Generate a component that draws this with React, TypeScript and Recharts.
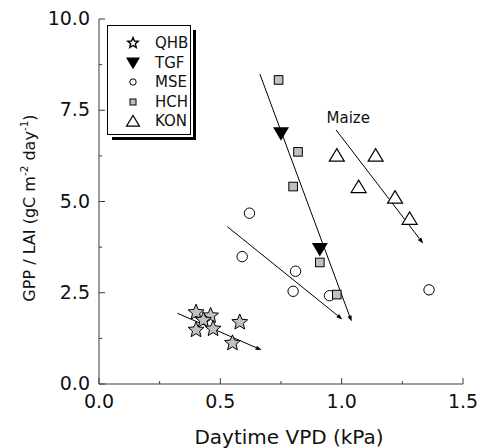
import React from 'react';
import {
  ScatterChart,
  Scatter,
  XAxis,
  YAxis,
  ReferenceLine,
  ReferenceDot,
  Legend,
} from 'recharts';

// tick positions (majors get labels)
const X_TICKS = [0, 0.25, 0.5, 0.75, 1.0, 1.25, 1.5];
const Y_TICKS = [0, 1.25, 2.5, 3.75, 5.0, 6.25, 7.5, 8.75, 10.0];

// site values (VPD kPa, GPP/LAI)
const QHB_X = [0.40, 0.46, 0.43, 0.40, 0.47, 0.58, 0.55];
const QHB_Y = [1.96, 1.87, 1.75, 1.48, 1.51, 1.69, 1.12];
const TGF_X = [0.75, 0.91];
const TGF_Y = [6.86, 3.69];
const MSE_X = [0.62, 0.81, 0.80, 0.59, 0.95, 1.36];
const MSE_Y = [4.68, 3.09, 2.54, 3.49, 2.42, 2.58];
const HCH_X = [0.74, 0.82, 0.80, 0.91, 0.98];
const HCH_Y = [8.33, 6.36, 5.41, 3.33, 2.45];
const KON_X = [0.98, 1.14, 1.07, 1.22, 1.28];
const KON_Y = [6.27, 6.27, 5.41, 5.12, 4.54];

// trend arrows: [start, end]
const QHB_TREND = [{ x: 0.323, y: 1.94 }, { x: 0.67, y: 0.93 }];
const MSE_TREND = [{ x: 0.529, y: 4.31 }, { x: 1.003, y: 1.77 }];
const TGF_TREND = [{ x: 0.663, y: 8.49 }, { x: 1.041, y: 1.71 }];
const MAIZE_TREND = [{ x: 0.977, y: 6.96 }, { x: 1.336, y: 3.85 }];

const SITES = ['QHB', 'TGF', 'MSE', 'HCH', 'KON'];

const FONT = '"DejaVu Sans", Verdana, sans-serif';
const AXIS = '#3a3a3a';
const GREY = '#c0c0c0';

const toPts = (xs: number[], ys: number[]) => xs.map((x, i) => ({ x, y: ys[i] }));

const isMajor = (v: number, step: number) => Math.abs(v / step - Math.round(v / step)) < 1e-6;

// ---- markers ----
const starPath = (cx: number, cy: number, R: number, r: number) => {
  const pts: string[] = [];
  for (let i = 0; i < 10; i++) {
    const rad = i % 2 === 0 ? R : r;
    const a = -Math.PI / 2 + (i * Math.PI) / 5;
    pts.push(`${(cx + rad * Math.cos(a)).toFixed(2)},${(cy + rad * Math.sin(a)).toFixed(2)}`);
  }
  return `M${pts.join('L')}Z`;
};

const Star = ({ cx, cy, R = 8.3, fill = GREY, sw = 1 }: any) => (
  <path d={starPath(cx, cy, R, R * 0.45)} fill={fill} stroke="#000" strokeWidth={sw} />
);
const DownTri = ({ cx, cy, s = 8 }: any) => (
  <path d={`M${cx - s},${cy - s * 0.8}L${cx + s},${cy - s * 0.8}L${cx},${cy + s * 0.9}Z`} fill="#000" />
);
const UpTri = ({ cx, cy, s = 7.5 }: any) => (
  <path
    d={`M${cx - s},${cy + s * 0.8}L${cx + s},${cy + s * 0.8}L${cx},${cy - s * 0.85}Z`}
    fill="#fff"
    stroke="#000"
    strokeWidth={1.2}
  />
);
const Circ = ({ cx, cy, r = 5.2 }: any) => (
  <circle cx={cx} cy={cy} r={r} fill="#fff" stroke="#000" strokeWidth={1} />
);
const Sq = ({ cx, cy, s = 4.3 }: any) => (
  <rect x={cx - s} y={cy - s} width={s * 2} height={s * 2} fill={GREY} stroke="#000" strokeWidth={1} />
);

// ---- arrow for trend lines ----
const ArrowLine = (props: any) => {
  const { x1, y1, x2, y2 } = props;
  const ang = Math.atan2(y2 - y1, x2 - x1);
  const L = 6;
  const W = 2.2;
  const bx = x2 - L * Math.cos(ang);
  const by = y2 - L * Math.sin(ang);
  const px = -Math.sin(ang) * W;
  const py = Math.cos(ang) * W;
  return (
    <g>
      <line x1={x1} y1={y1} x2={bx} y2={by} stroke="#000" strokeWidth={1} />
      <polygon points={`${x2},${y2} ${bx + px},${by + py} ${bx - px},${by - py}`} fill="#000" />
    </g>
  );
};

// ---- inward ticks ----
const BottomTick = ({ x, y, payload }: any) => {
  const major = isMajor(payload.value, 0.5);
  return (
    <g>
      <line x1={x} y1={y} x2={x} y2={y - (major ? 6 : 3)} stroke={AXIS} />
      {major && (
        <text x={x} y={y + 24} textAnchor="middle" fontSize={19} fontFamily={FONT} fill="#111">
          {payload.value.toFixed(1)}
        </text>
      )}
    </g>
  );
};
const TopTick = ({ x, y, payload }: any) => {
  const major = isMajor(payload.value, 0.5);
  return <line x1={x} y1={y} x2={x} y2={y + (major ? 6 : 3)} stroke={AXIS} />;
};
const LeftTick = ({ x, y, payload }: any) => {
  const major = isMajor(payload.value, 2.5);
  return (
    <g>
      <line x1={x} y1={y} x2={x + (major ? 6 : 3)} y2={y} stroke={AXIS} />
      {major && (
        <text x={x - 9} y={y + 6} textAnchor="end" fontSize={19} fontFamily={FONT} fill="#111">
          {payload.value.toFixed(1)}
        </text>
      )}
    </g>
  );
};
const RightTick = ({ x, y, payload }: any) => {
  const major = isMajor(payload.value, 2.5);
  return <line x1={x} y1={y} x2={x - (major ? 6 : 3)} y2={y} stroke={AXIS} />;
};

const legendIcon = (name: string) => {
  switch (name) {
    case 'QHB':
      return <Star cx={8} cy={8} R={5.5} fill="#fff" sw={1.4} />;
    case 'TGF':
      return <DownTri cx={8} cy={8} s={7} />;
    case 'MSE':
      return <Circ cx={8} cy={8} r={3.2} />;
    case 'HCH':
      return <Sq cx={8} cy={8} s={3} />;
    default:
      return <UpTri cx={8} cy={8} s={6.5} />;
  }
};

const LegendBox = () => (
  <div
    style={{
      position: 'relative',
      width: 82,
      height: 108,
      border: '1px solid #000',
      background: '#fff',
      boxShadow: '2px 2px 0 0 #fff, 5px 5px 0 0 #000',
      fontFamily: FONT,
      fontSize: 15,
      color: '#111',
    }}
  >
    {SITES.map((s, i) => (
      <div key={s} style={{ position: 'absolute', left: 0, top: 17 + i * 19.5 - 9, height: 18, width: 82 }}>
        <svg width={16} height={16} style={{ position: 'absolute', left: 17, top: 1 }}>
          {legendIcon(s)}
        </svg>
        <span style={{ position: 'absolute', left: 47, top: 0, lineHeight: '18px' }}>{s}</span>
      </div>
    ))}
  </div>
);

const YTitle = () => (
  <text
    x={35}
    y={208}
    transform="rotate(-90 35 208)"
    textAnchor="middle"
    fontSize={16}
    fontFamily={FONT}
    fill="#111"
  >
    GPP / LAI (gC m
    <tspan fontSize={10.5} dy={-7}>-2</tspan>
    <tspan dy={7}> day</tspan>
    <tspan fontSize={10.5} dy={-7}>-1</tspan>
    <tspan dy={7}>)</tspan>
  </text>
);

const XTitle = () => (
  <text x={289} y={444} textAnchor="middle" fontSize={20} fontFamily={FONT} fill="#111">
    Daytime VPD (kPa)
  </text>
);

export default function App() {
  return (
    <div style={{ position: 'absolute', left: 0, top: 0, background: '#fff' }}>
      <ScatterChart width={482} height={448} margin={{ top: 19, right: 19, bottom: 0, left: 0 }}>
        <XAxis
          xAxisId={0}
          type="number"
          dataKey="x"
          domain={[0, 1.5]}
          ticks={X_TICKS}
          interval={0}
          allowDataOverflow
          height={64}
          tickSize={0}
          tickMargin={0}
          tickLine={false}
          axisLine={{ stroke: AXIS }}
          tick={<BottomTick />}
          label={<XTitle />}
        />
        <XAxis
          xAxisId="top"
          orientation="top"
          type="number"
          domain={[0, 1.5]}
          ticks={X_TICKS}
          interval={0}
          allowDataOverflow
          height={0}
          tickSize={0}
          tickMargin={0}
          tickLine={false}
          axisLine={{ stroke: AXIS }}
          tick={<TopTick />}
        />
        <YAxis
          yAxisId={0}
          type="number"
          dataKey="y"
          domain={[0, 10]}
          ticks={Y_TICKS}
          interval={0}
          allowDataOverflow
          width={99}
          tickSize={0}
          tickMargin={0}
          tickLine={false}
          axisLine={{ stroke: AXIS }}
          tick={<LeftTick />}
          label={<YTitle />}
        />
        <YAxis
          yAxisId="right"
          orientation="right"
          type="number"
          domain={[0, 10]}
          ticks={Y_TICKS}
          interval={0}
          allowDataOverflow
          width={0}
          tickSize={0}
          tickMargin={0}
          tickLine={false}
          axisLine={{ stroke: AXIS }}
          tick={<RightTick />}
        />
        <Legend
          layout="horizontal"
          verticalAlign="middle"
          align="center"
          wrapperStyle={{ left: 107, top: 25, width: 84, height: 110 }}
          content={() => <LegendBox />}
        />

        <ReferenceLine segment={QHB_TREND} shape={ArrowLine} ifOverflow="visible" />
        <ReferenceLine segment={MSE_TREND} shape={ArrowLine} ifOverflow="visible" />
        <ReferenceLine segment={TGF_TREND} shape={ArrowLine} ifOverflow="visible" />
        <ReferenceLine segment={MAIZE_TREND} shape={ArrowLine} ifOverflow="visible" />

        <Scatter name="QHB" data={toPts(QHB_X, QHB_Y)} shape={Star} isAnimationActive={false} />
        <Scatter name="MSE" data={toPts(MSE_X, MSE_Y)} shape={Circ} isAnimationActive={false} />
        <Scatter name="HCH" data={toPts(HCH_X, HCH_Y)} shape={Sq} isAnimationActive={false} />
        <Scatter name="TGF" data={toPts(TGF_X, TGF_Y)} shape={DownTri} isAnimationActive={false} />
        <Scatter name="KON" data={toPts(KON_X, KON_Y)} shape={UpTri} isAnimationActive={false} />

        <ReferenceDot
          x={1.027}
          y={7.29}
          r={0}
          ifOverflow="visible"
          shape={(p: any) => (
            <text x={p.cx} y={p.cy + 5} textAnchor="middle" fontSize={15} fontFamily={FONT} fill="#111">
              Maize
            </text>
          )}
        />
      </ScatterChart>
    </div>
  );
}
